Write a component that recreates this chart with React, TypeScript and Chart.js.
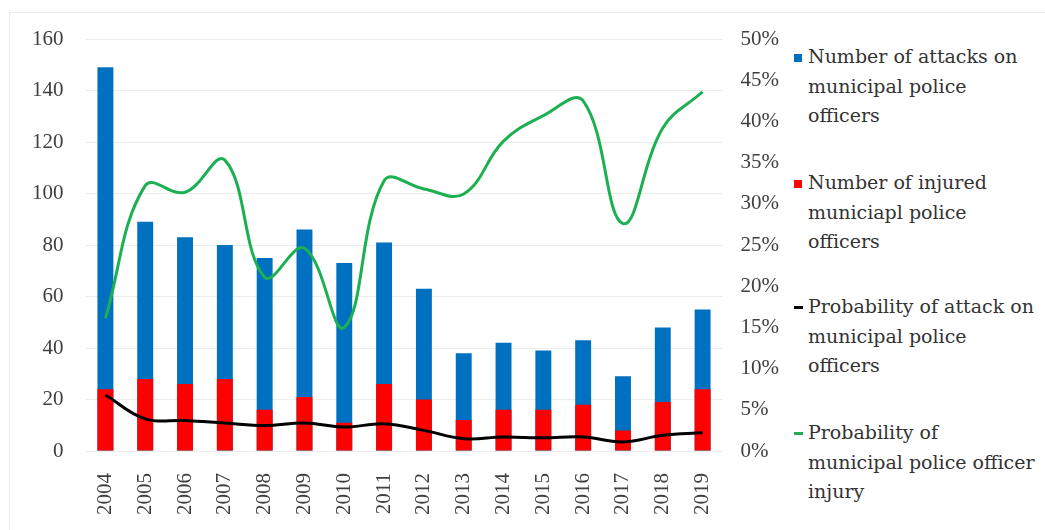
import React, { useEffect, useRef } from "react";
import { Chart, registerables } from "chart.js";

Chart.register(...registerables);

const years = ["2004","2005","2006","2007","2008","2009","2010","2011","2012","2013","2014","2015","2016","2017","2018","2019"];
const attacks = [149, 89, 83, 80, 75, 86, 73, 81, 63, 38, 42, 39, 43, 29, 48, 55];
const injured = [24, 28, 26, 28, 16, 21, 11, 26, 20, 12, 16, 16, 18, 8, 19, 24];
const probAttack = [6.8, 3.9, 3.7, 3.4, 3.1, 3.4, 2.9, 3.3, 2.5, 1.5, 1.7, 1.6, 1.7, 1.1, 1.9, 2.2];
const probInjury = [16.1, 32.2, 31.4, 35.3, 21.1, 24.6, 15.0, 32.8, 31.8, 31.2, 37.6, 40.7, 42.5, 27.6, 39.2, 43.6];

const legendItems = [
  { color: "#0070C0", kind: "box", lines: ["Number of attacks on", "municipal police", "officers"], top: 42 },
  { color: "#FF0000", kind: "box", lines: ["Number of injured", "municiapl police", "officers"], top: 168 },
  { color: "#000000", kind: "line", lines: ["Probability of attack on", "municipal police", "officers"], top: 292 },
  { color: "#1DB053", kind: "line", lines: ["Probability of", "municipal police officer", "injury"], top: 418 },
];

export default function App() {
  const ref = useRef<HTMLCanvasElement | null>(null);
  useEffect(() => {
    document.body.style.margin = "0";
    const tickFont = { family: "'Liberation Serif', serif", size: 21 };
    const chart = new Chart(ref.current!, {
      type: "bar",
      data: {
        labels: years,
        datasets: [
          { type: "line", label: "Probability of attack on municipal police officers", data: probAttack, yAxisID: "y2", borderColor: "#000000", borderWidth: 3, pointRadius: 0, tension: 0.4, order: 0 },
          { type: "line", label: "Probability of municipal police officer injury", data: probInjury, yAxisID: "y2", borderColor: "#1DB053", borderWidth: 3, pointRadius: 0, tension: 0.4, order: 1 },
          { type: "bar", label: "Number of injured municiapl police officers", data: injured, yAxisID: "y", backgroundColor: "#FF0000", barPercentage: 0.4, categoryPercentage: 1, order: 2 },
          { type: "bar", label: "Number of attacks on municipal police officers", data: attacks, yAxisID: "y", backgroundColor: "#0070C0", barPercentage: 0.4, categoryPercentage: 1, order: 3 },
        ],
      },
      options: {
        animation: false,
        responsive: false,
        maintainAspectRatio: false,
        layout: { padding: { left: 10, right: 4, top: 39, bottom: 1 } },
        plugins: { legend: { display: false }, tooltip: { enabled: false } },
        scales: {
          x: {
            stacked: true,
            grid: { display: false },
            border: { display: false },
            ticks: { font: tickFont, color: "#404040", maxRotation: 90, minRotation: 90, padding: 14 },
          },
          y: {
            stacked: false,
            min: 0, max: 160,
            ticks: { stepSize: 20, font: tickFont, color: "#404040", padding: 22 },
            grid: { color: "#ececec", drawTicks: false },
            border: { display: false },
          },
          y2: {
            position: "right",
            min: 0, max: 50,
            ticks: { stepSize: 5, font: tickFont, color: "#404040", padding: 18, callback: (v: any) => v + "%" },
            grid: { display: false, drawTicks: false },
            border: { display: false },
          },
        },
      },
    });
    return () => chart.destroy();
  }, []);

  return (
    <div style={{ position: "absolute", left: 0, top: 0, width: 1045, height: 530, background: "#fff", overflow: "hidden" }}>
      <div style={{ position: "absolute", left: 9, top: 12, width: 1040, height: 520, borderTop: "1px solid #ececec", borderLeft: "1px solid #ececec" }} />
      <canvas ref={ref} width={801} height={530} style={{ position: "absolute", left: 0, top: 0, width: 801, height: 530 }} />
      {legendItems.map((it, i) => (
        <div key={i} style={{ position: "absolute", left: 808, top: it.top, fontFamily: "'DejaVu Serif', serif", fontSize: 19, lineHeight: "29.5px", color: "#333", whiteSpace: "nowrap" }}>
          <div style={{ position: "absolute", left: -14, top: it.kind === "box" ? 12 : 14, width: it.kind === "box" ? 8 : 9, height: it.kind === "box" ? 8 : 3, background: it.color }} />
          {it.lines.map((l, j) => <div key={j}>{l}</div>)}
        </div>
      ))}
    </div>
  );
}
